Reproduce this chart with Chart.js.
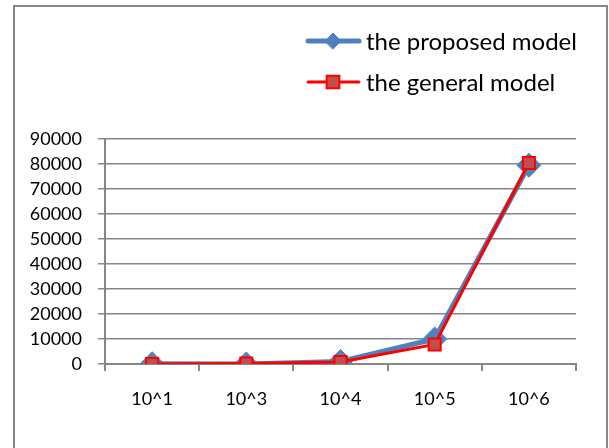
<!DOCTYPE html>
<html>
<head>
<meta charset="utf-8">
<script src="https://cdn.jsdelivr.net/npm/chart.js@4"></script>
<style>
  html, body { margin: 0; padding: 0; background: #fff; }
  #wrap { width: 609px; height: 448px; position: relative; }
</style>
</head>
<body>
<div id="wrap"><canvas id="chart" width="609" height="448"></canvas></div>
<script>
// data
const categories = ['10^1', '10^3', '10^4', '10^5', '10^6'];
const proposedModel = [100, 0, 1000, 10000, 79500];
const generalModel = [0, 200, 800, 7800, 80400];
const yTicks = { min: 0, max: 90000, step: 10000 };

const FONT = 'Lato, "Open Sans", sans-serif';
const GRID = '#868686';

function drawMarker(ctx, style, x, y, r) {
  if (style === 'rectRot') {
    ctx.moveTo(x - r, y); ctx.lineTo(x, y - r); ctx.lineTo(x + r, y); ctx.lineTo(x, y + r);
    ctx.closePath();
  } else {
    const s = r * Math.SQRT1_2;
    ctx.rect(x - s, y - s, 2 * s, 2 * s);
  }
}

// outer frame + two-row legend at the top right
const framePlugin = {
  id: 'frame',
  beforeDraw(chart) {
    const ctx = chart.ctx;
    ctx.save();
    ctx.fillStyle = '#fff';
    ctx.fillRect(0, 0, chart.width, chart.height);
    ctx.strokeStyle = GRID;
    ctx.lineWidth = 2;
    ctx.strokeRect(14, 6, 593, 470);
    ctx.restore();
  },
  afterDraw(chart) {
    const ctx = chart.ctx;
    ctx.save();
    ctx.font = '24px ' + FONT;
    ctx.textBaseline = 'middle';
    const rows = [41, 82];
    chart.data.datasets.forEach((ds, i) => {
      const y = rows[i];
      ctx.strokeStyle = ds.borderColor;
      ctx.lineWidth = ds.borderWidth;
      ctx.lineCap = 'round';
      ctx.beginPath();
      ctx.moveTo(308, y);
      ctx.lineTo(359, y);
      ctx.stroke();
      ctx.fillStyle = ds.pointBackgroundColor;
      ctx.strokeStyle = ds.pointBorderColor;
      ctx.lineWidth = ds.pointBorderWidth;
      ctx.beginPath();
      drawMarker(ctx, ds.pointStyle, 333, y, ds.legendRadius);
      ctx.fill();
      ctx.stroke();
      ctx.fillStyle = '#000';
      ctx.fillText(ds.label, 366, y + 1);
    });
    ctx.restore();
  }
};

new Chart(document.getElementById('chart'), {
  type: 'line',
  data: {
    labels: categories,
    datasets: [
      {
        label: 'the proposed model',
        data: proposedModel,
        order: 1,
        borderColor: '#4F81BD',
        backgroundColor: '#4F81BD',
        borderWidth: 5,
        pointStyle: 'rectRot',
        pointRadius: 12,
        legendRadius: 8,
        pointBackgroundColor: '#4F81BD',
        pointBorderColor: '#4F81BD',
        pointBorderWidth: 1,
        tension: 0
      },
      {
        label: 'the general model',
        data: generalModel,
        order: 0,
        borderColor: '#FF0000',
        backgroundColor: '#C0504D',
        borderWidth: 3,
        pointStyle: 'rect',
        pointRadius: 8.5,
        legendRadius: 9,
        pointBackgroundColor: '#C0504D',
        pointBorderColor: '#FF0000',
        pointBorderWidth: 2,
        tension: 0
      }
    ]
  },
  options: {
    responsive: false,
    animation: false,
    layout: { padding: { left: 13, right: 33, top: 139, bottom: 0 } },
    plugins: {
      legend: { display: false },
      tooltip: { enabled: false }
    },
    scales: {
      x: {
        offset: true,
        afterFit: (s) => { s.height = 84; },
        border: { color: GRID, width: 2 },
        grid: { offset: true, drawOnChartArea: false, drawTicks: true, tickLength: 7, color: GRID, lineWidth: 2 },
        ticks: { color: '#000', font: { family: FONT, size: 18 }, padding: 17, maxRotation: 0 }
      },
      y: {
        min: yTicks.min,
        max: yTicks.max,
        afterFit: (s) => { s.width = 92; },
        border: { color: GRID, width: 2 },
        grid: { color: GRID, lineWidth: 1.5, tickLength: 7 },
        ticks: {
          stepSize: yTicks.step,
          color: '#000',
          font: { family: FONT, size: 18 },
          padding: 16,
          callback: (v) => String(v)
        }
      }
    }
  },
  plugins: [framePlugin]
});
</script>
</body>
</html>
